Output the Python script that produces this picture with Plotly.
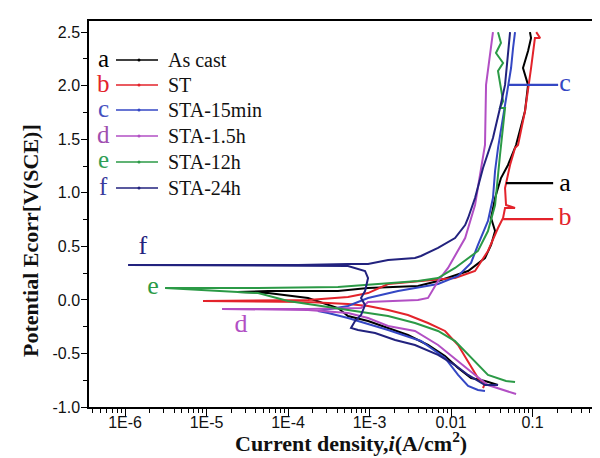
import plotly.graph_objects as go

W, H = 600, 458
ML, MR, MT, MB = 81, 0, 13, 59

# ---------------- data (current density A/cm2, potential V) ----------------
# a: As cast
a_i = [3.77e-2, 2.61e-2, 1.76e-2, 1.22e-2, 8.44e-3, 5.22e-3, 2.96e-3, 1.69e-3, 9.59e-4, 5.44e-4,
       4.10e-4, 1.76e-4, 5.69e-5, 2.37e-5, 5.69e-5, 4.10e-4, 9.59e-4, 3.93e-3, 6.93e-3, 1.62e-2,
       2.61e-2, 3.10e-2, 3.47e-2, 3.10e-2, 3.47e-2, 4.10e-2, 5.00e-2, 6.28e-2, 7.22e-2, 8.09e-2,
       8.81e-2, 7.64e-2, 8.81e-2, 9.59e-2, 9.3e-2]
a_E = [-0.795, -0.757, -0.729, -0.636, -0.524, -0.421, -0.328, -0.262, -0.197, -0.150,
       -0.076, 0.018, 0.064, 0.074, 0.083, 0.083, 0.111, 0.130, 0.176, 0.270,
       0.391, 0.513, 0.643, 0.765, 0.951, 1.138, 1.260, 1.446, 1.633, 1.764,
       2.007, 2.165, 2.324, 2.445, 2.50]

# b: ST
b_i = [2.47e-2, 2.6e-2, 2.14e-2, 1.62e-2, 1.22e-2, 8.44e-3, 5.22e-3, 2.96e-3, 1.69e-3, 9.59e-4,
       5.44e-4, 1.76e-4, 9.06e-6, 1.76e-4, 5.44e-4, 9.59e-4, 1.69e-3, 4.28e-3, 1.12e-2, 1.97e-2,
       2.84e-2, 3.77e-2, 4.35e-2, 4.60e-2, 6.10e-2, 4.73e-2, 4.60e-2, 5.30e-2, 6.10e-2, 6.64e-2,
       8.09e-2, 9.59e-2, 0.107, 0.124, 0.111]
b_E = [-0.823, -0.78, -0.729, -0.570, -0.421, -0.290, -0.216, -0.141, -0.094, -0.057,
       -0.038, -0.020, -0.010, -0.001, 0.027, 0.064, 0.148, 0.176, 0.204, 0.270,
       0.457, 0.671, 0.765, 0.858, 0.858, 0.886, 1.045, 1.260, 1.418, 1.446,
       1.764, 2.165, 2.445, 2.445, 2.50]

# c: STA-15min
c_i = [2.61e-2, 2.14e-2, 1.62e-2, 1.22e-2, 8.44e-3, 4.28e-3, 1.69e-3, 9.59e-4, 5.44e-4, 3.10e-4,
       2.33e-4, 5.44e-4, 9.59e-4, 2.24e-3, 6.93e-3, 1.22e-2, 1.76e-2, 2.14e-2, 2.84e-2, 3.27e-2,
       3.47e-2, 3.77e-2, 4.35e-2, 5.00e-2, 5.45e-2, 5.77e-2, 6.10e-2]
c_E = [-0.851, -0.841, -0.804, -0.701, -0.542, -0.384, -0.281, -0.225, -0.169, -0.122,
       -0.104, -0.057, 0.018, 0.083, 0.148, 0.223, 0.345, 0.513, 0.737, 0.951,
       1.204, 1.418, 1.698, 2.007, 2.165, 2.352, 2.50]

# d: STA-1.5h
d_i = [6.28e-2, 4.73e-2, 2.84e-2, 1.97e-2, 1.22e-2, 6.93e-3, 3.61e-3, 1.69e-3, 9.59e-4, 5.44e-4,
       1.76e-4, 1.55e-5, 1.76e-4, 7.87e-4, 9.59e-4, 3.93e-3, 5.22e-3, 6.93e-3, 9.19e-3, 1.49e-2,
       1.97e-2, 2.33e-2, 2.61e-2, 2.69e-2, 3.01e-2, 3.27e-2]
d_E = [-0.879, -0.851, -0.795, -0.701, -0.570, -0.421, -0.290, -0.244, -0.169, -0.122,
       -0.094, -0.085, -0.085, -0.076, -0.020, -0.001, 0.018, 0.176, 0.298, 0.578,
       0.886, 1.204, 1.446, 2.007, 2.324, 2.50]

# e: STA-12h
e_i = [6.10e-2, 4.73e-2, 2.84e-2, 1.76e-2, 1.12e-2, 6.93e-3, 3.61e-3, 1.69e-3, 9.59e-4, 4.10e-4,
       1.76e-4, 1.0e-4, 4.29e-5, 3.10e-6, 4.29e-5, 4.10e-4, 3.93e-3, 6.93e-3, 1.12e-2, 2.14e-2,
       2.84e-2, 3.47e-2, 3.99e-2, 4.60e-2, 3.99e-2, 4.35e-2, 3.77e-2, 4.35e-2, 3.56e-2, 4.10e-2,
       3.77e-2]
e_E = [-0.767, -0.757, -0.701, -0.542, -0.384, -0.290, -0.216, -0.150, -0.122, -0.076,
       -0.038, -0.010, 0.064, 0.111, 0.111, 0.120, 0.176, 0.204, 0.298, 0.457,
       0.643, 0.886, 1.353, 1.792, 1.792, 1.857, 2.137, 2.212, 2.305, 2.399,
       2.50]

# f: STA-24h
f_i = [3.77e-2, 2.61e-2, 1.62e-2, 1.12e-2, 6.93e-3, 3.61e-3, 2.06e-3, 1.17e-3, 7.22e-4, 5.93e-4,
       6.64e-4, 7.87e-4, 8.81e-4, 7.87e-4, 8.81e-4, 9.59e-4, 8.81e-4, 5.44e-4, 1.09e-6, 1.33e-4,
       5.44e-4, 9.59e-4, 1.69e-3, 3.61e-3, 4.28e-3, 6.93e-3, 1.12e-2, 1.49e-2, 1.62e-2, 1.97e-2,
       2.47e-2, 3.01e-2, 3.27e-2, 3.99e-2, 4.60e-2, 5.30e-2]
f_E = [-0.795, -0.795, -0.701, -0.608, -0.514, -0.421, -0.374, -0.309, -0.281, -0.262,
       -0.197, -0.141, -0.048, 0.018, 0.083, 0.204, 0.270, 0.317, 0.326, 0.326,
       0.335, 0.335, 0.373, 0.391, 0.410, 0.485, 0.578, 0.699, 0.765, 0.951,
       1.232, 1.418, 1.512, 1.792, 2.007, 2.50]

letters = ["a", "b", "c", "d", "e", "f"]
names = ["As cast", "ST", "STA-15min", "STA-1.5h", "STA-12h", "STA-24h"]
colors = ["#000000", "#e3232b", "#3447c4", "#b24fc4", "#2b9a46", "#22227e"]
legend_letter_colors = ["#000000", "#e3232b", "#4650c0", "#a04fb0", "#2f9e55", "#3a3a9c"]

series_i = [a_i, b_i, c_i, d_i, e_i, f_i]
series_E = [a_E, b_E, c_E, d_E, e_E, f_E]

# curve labels on the plot (label positions, pointer lines)
lab_i = [0.25, 0.25, 0.25, 2.65e-5, 2.21e-6, 1.66e-6]
lab_E = [1.08, 0.76, 2.01, -0.24, 0.12, 0.49]
ptr_i = {"a": [0.0473, 0.179], "b": [0.0435, 0.179], "c": [0.050, 0.206]}
ptr_E = {"a": [1.09, 1.09], "b": [0.755, 0.755], "c": [2.007, 2.007]}

x_tickvals = [1e-6, 1e-5, 1e-4, 1e-3, 1e-2, 1e-1]
x_ticktext = ["1E-6", "1E-5", "1E-4", "1E-3", "0.01", "0.1"]
y_tickvals = [-1.0, -0.5, 0.0, 0.5, 1.0, 1.5, 2.0, 2.5]
y_ticktext = ["-1.0", "-0.5", "0.0", "0.5", "1.0", "1.5", "2.0", "2.5"]

fig = go.Figure()
for i, E, col in zip(series_i, series_E, colors):
    fig.add_trace(go.Scatter(x=i, y=E, mode="lines", line=dict(color=col, width=2),
                             showlegend=False, hoverinfo="skip"))

for k in ["a", "b", "c"]:
    col = colors[letters.index(k)]
    fig.add_trace(go.Scatter(x=ptr_i[k], y=ptr_E[k], mode="lines", line=dict(color=col, width=2.2),
                             showlegend=False, hoverinfo="skip"))

for k, li, le in zip(letters, lab_i, lab_E):
    col = colors[letters.index(k)]
    fig.add_trace(go.Scatter(x=[li], y=[le], mode="text", text=[k],
                             textfont=dict(family="Liberation Serif", size=26, color=col),
                             showlegend=False, hoverinfo="skip"))

# ---------------- custom legend ----------------
pw = W - ML - MR
ph = H - MT - MB
def px2paper(px, py):
    return (px - ML) / pw, (H - MB - py) / ph

row_y = [52, 77, 102, 128, 154, 180]
shapes = []
annotations = []
for k, nm, lc, col, py in zip(letters, names, legend_letter_colors, colors, row_y):
    x0, y0 = px2paper(108, py)
    x1, _ = px2paper(150, py)
    shapes.append(dict(type="line", xref="paper", yref="paper", x0=x0, x1=x1, y0=y0, y1=y0,
                       line=dict(color=col, width=1.3)))
    cx0, cy0 = px2paper(129.5, py - 1.5)
    cx1, cy1 = px2paper(132.5, py + 1.5)
    shapes.append(dict(type="circle", xref="paper", yref="paper", x0=cx0, x1=cx1, y0=cy1, y1=cy0,
                       fillcolor=col, line=dict(width=0)))
    lx, ly = px2paper(95, py - 2)
    annotations.append(dict(xref="paper", yref="paper", x=lx, y=ly, text=k, showarrow=False,
                            xanchor="center", yanchor="middle",
                            font=dict(family="Liberation Serif", size=25, color=lc)))
    tx, ty = px2paper(158, py)
    annotations.append(dict(xref="paper", yref="paper", x=tx, y=ty, text=nm, showarrow=False,
                            xanchor="left", yanchor="middle",
                            font=dict(family="Liberation Serif", size=20, color="#111111")))

# axis titles
xt, yt = px2paper(343, 434)
annotations.append(dict(xref="paper", yref="paper", x=xt, y=yt, showarrow=False,
                        text="<b>Current density,<i>i</i>(A/cm<sup>2</sup>)</b>",
                        xanchor="center", yanchor="middle",
                        font=dict(family="Liberation Serif", size=22, color="#111111")))
xt, yt = px2paper(22, 233)
annotations.append(dict(xref="paper", yref="paper", x=xt, y=yt, showarrow=False,
                        text="<b>Potential Ecorr[V(SCE)]</b>", textangle=-90,
                        xanchor="center", yanchor="middle",
                        font=dict(family="Liberation Serif", size=22, color="#111111")))

fig.update_layout(
    width=W, height=H,
    margin=dict(l=ML, r=MR, t=MT, b=MB, pad=0),
    paper_bgcolor="white", plot_bgcolor="white",
    shapes=shapes, annotations=annotations,
    xaxis=dict(type="log", range=[-6.442, -0.074], showgrid=False, zeroline=False,
               showline=True, linecolor="black", linewidth=1.5, mirror=True,
               ticks="outside", ticklen=8, tickwidth=1.2, tickcolor="black",
               tickvals=x_tickvals, ticktext=x_ticktext, ticklabelstandoff=-8,
               tickfont=dict(family="Liberation Sans", size=16, color="#111111"),
               minor=dict(ticks="outside", ticklen=4, tickwidth=1, tickcolor="black",
                          dtick="D1", showgrid=False)),
    yaxis=dict(range=[-1.0, 2.604], showgrid=False, zeroline=False,
               showline=True, linecolor="black", linewidth=1.5, mirror=False,
               ticks="outside", ticklen=6, tickwidth=1.2, tickcolor="black",
               tickvals=y_tickvals, ticktext=y_ticktext, ticklabelstandoff=-2,
               tickfont=dict(family="Liberation Sans", size=16, color="#111111"),
               minor=dict(ticks="outside", ticklen=4, tickwidth=1, tickcolor="black",
                          dtick=0.25, showgrid=False)),
)

fig.write_html("out.html")
